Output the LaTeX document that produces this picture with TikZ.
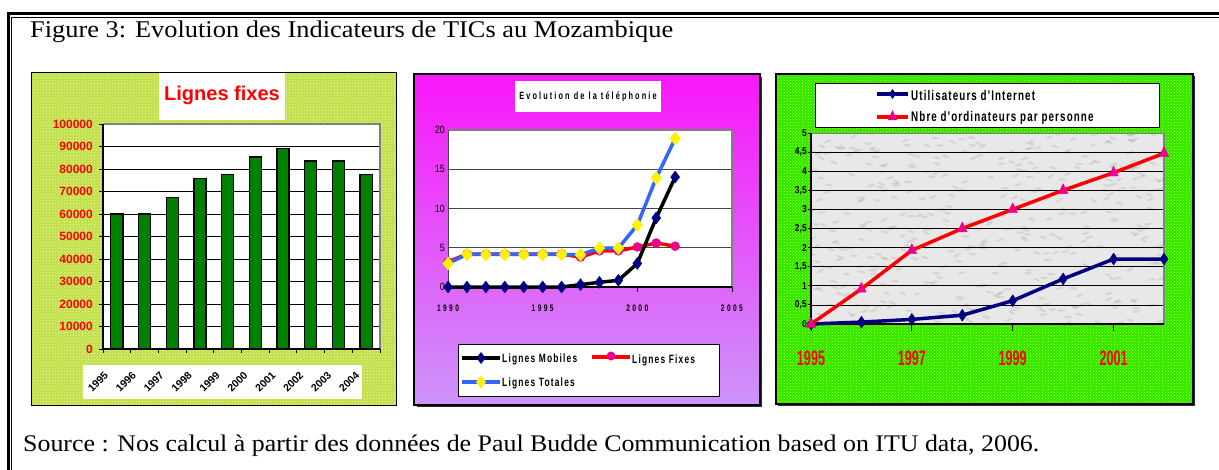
\documentclass[tikz,border=0pt]{standalone}
\usepackage{fontspec}
\setmainfont{Liberation Serif}
\newfontfamily\capfont{Liberation Serif}[FakeStretch=1.1]
\newfontfamily\srcfont{Liberation Serif}[FakeStretch=1.088]
\newfontfamily\sansb{Liberation Sans}
\newfontfamily\sansnar{Liberation Sans}[FakeStretch=0.85]
\newfontfamily\sanscond{Liberation Sans}[FakeStretch=0.7]
\newfontfamily\sansxc{Liberation Sans}[FakeStretch=0.6]
\usetikzlibrary{patterns,plotmarks}

\definecolor{bgyg}{RGB}{192,224,66}
\definecolor{barg}{RGB}{0,128,0}
\definecolor{magtop}{RGB}{250,22,250}
\definecolor{magbot}{RGB}{205,148,250}
\definecolor{navy}{RGB}{0,0,128}
\definecolor{tblue}{RGB}{51,102,255}
\definecolor{bggreen}{RGB}{40,232,0}
\definecolor{dotyel}{RGB}{215,255,0}
\definecolor{plotgray}{RGB}{232,232,232}
\definecolor{axgray}{RGB}{128,128,128}
\definecolor{darkgrid}{RGB}{70,70,70}
\definecolor{shadowc}{RGB}{50,40,60}

\tikzset{
  gridk/.style={black, line width=0.8pt},
  barbox/.style={fill=barg, draw=black, line width=1.3pt},
  seriesline/.style={line width=3.5pt, line join=round, line cap=round},
  chartframe/.style={draw=black, line width=1.2pt},
  legendbox/.style={fill=white, draw=black, line width=0.9pt},
  tickline/.style={black, line width=0.9pt},
}

\begin{document}
\begin{tikzpicture}[x=1pt,y=-1pt]
\path[use as bounding box] (0,0) rectangle (1219,469);
\clip (0,0) rectangle (1219,469);
\fill[white] (0,0) rectangle (1219,469);

% page frame: thick outer rule and thin inner rule
\draw[line width=3pt] (8,13.5) -- (1240,13.5);
\draw[line width=3pt] (8,12) -- (8,490);
\draw[line width=1pt] (11.5,17) -- (1240,17);
\draw[line width=1pt] (11.5,17) -- (11.5,490);

\node[anchor=base west, inner sep=0, font=\capfont\fontsize{24}{28}\selectfont] (title) at (30,37)
  {Figure 3: Evolution des Indicateurs de TICs au Mozambique};
\node[anchor=base west, inner sep=0, font=\srcfont\fontsize{23.8}{28}\selectfont] (source) at (23,451)
  {Source : Nos calcul à partir des données de Paul Budde Communication based on ITU data, 2006.};

% ---------------- chart 1 : fixed lines (bars) ----------------
\fill[bgyg] (31,72) rectangle (396,405);
\fill[pattern=crosshatch dots, pattern color=white!75!bgyg] (31,72) rectangle (396,405);
\draw[black, line width=1pt] (31,72) rectangle (396,405);
\fill[white] (159,73) rectangle (285,120);
\node[font=\sansb\bfseries\fontsize{20}{22}\selectfont, text=red, inner sep=0] (c1title) at (222,95) {Lignes fixes};
\fill[white] (103,124) rectangle (380,349);
\fill[white] (83,365) rectangle (362,399);
\begin{scope}[shift={(103,349)}, x=27.7pt, y=22.5pt]
  \foreach \k in {1,...,9} \draw[gridk] (0,\k) -- (10,\k);
  \draw[axgray, line width=1.5pt] (0,10) -- (10,10) -- (10,0);
  \foreach \v [count=\i from 0] in {6,6,6.72,7.58,7.76,8.53,8.92,8.36,8.36,7.76}
    \draw[barbox] (\i+0.283,0) rectangle (\i+0.717,\v);
  \draw[tickline, line width=1.1pt] (0,10) -- (0,0) -- (10,0);
  \foreach \k in {0,...,10} \draw[tickline] (0,\k) -- ++(-4pt,0);
  \foreach \i in {0,...,10} \draw[tickline] (\i,0) -- ++(0,-4pt);
  \foreach \k/\t in {0/0,1/10000,2/20000,3/30000,4/40000,5/50000,6/60000,7/70000,8/80000,9/90000,10/100000}
    \node[anchor=east, inner sep=0, text=red, font=\sansb\bfseries\fontsize{12}{14}\selectfont] (c1y\k) at ([xshift=-10pt]0,\k) {\t};
\end{scope}
\foreach \t [count=\i from 0] in {1995,1996,1997,1998,1999,2000,2001,2002,2003,2004}
  \node[rotate=45, inner sep=0, font=\sansb\bfseries\fontsize{10.5}{12}\selectfont] (c1x\i) at ({98+27.9*\i},382) {\t};

% ---------------- chart 2 : telephony ----------------
\fill[shadowc] (417,77) rectangle (762,407);
\shade[top color=magtop, bottom color=magbot] (414,74) rectangle (760,405);
\draw[chartframe] (414,74) rectangle (760,405);
\fill[white] (515,81) rectangle (661,112);
\node[inner sep=0, font=\sanscond\bfseries\fontsize{10.5}{12}\selectfont\addfontfeature{LetterSpace=20}] (c2title) at (588,97) {Evolution de la téléphonie};
\fill[white] (448,130) rectangle (732,287);
\begin{scope}[shift={(448,287)}, x=18.93pt, y=7.85pt]
  \foreach \k in {5,10,15} \draw[darkgrid, line width=1.1pt] (0,\k) -- (15,\k);
  \draw[axgray, line width=2pt] (0,20) -- (15,20);
  \draw[axgray, line width=1.5pt] (15,20) -- (15,0);
  \draw[darkgrid, line width=1pt] (0,20) -- (0,0);
  \draw[tickline, line width=1.1pt] (0,0) -- (15,0);
  \foreach \i in {0,5,10,15} \draw[tickline] (\i,0) -- ++(0,-5pt);
  \foreach \k in {0,5,10,15,20}
    \node[anchor=east, inner sep=0, font=\sansnar\fontsize{10.5}{12}\selectfont] (c2y\k) at ([xshift=-3pt]0,\k) {\k};
  \foreach \i/\t in {0/1990,5/1995,10/2000,15/2005}
    \node[inner sep=0, font=\sanscond\bfseries\fontsize{9.5}{11}\selectfont\addfontfeature{LetterSpace=25}] (c2x\t) at ([yshift=-21pt]\i,0) {\t};
  % Lignes Fixes
  \draw[seriesline, red, mark=*, mark size=4.5pt, mark options={fill=magenta, draw=magenta, line width=0.4pt}]
    plot coordinates {(0,3.2) (1,4.2) (2,4.2) (3,4.2) (4,4.2) (5,4.2) (6,4.2) (7,3.8) (8,4.6) (9,4.6) (10,5.1) (11,5.6) (12,5.2)};
  % Lignes Totales
  \draw[seriesline, tblue, mark=diamond*, mark size=6.5pt, mark options={fill=yellow, draw=yellow, line width=0.4pt, xscale=1.1}]
    plot coordinates {(0,3.0) (1,4.15) (2,4.15) (3,4.15) (4,4.15) (5,4.15) (6,4.15) (7,4.1) (8,4.95) (9,4.95) (10,7.9) (11,13.9) (12,18.9)};
  % Lignes Mobiles
  \draw[seriesline, black, mark=diamond*, mark size=6pt, mark options={fill=navy, draw=navy, line width=0.4pt}]
    plot coordinates {(0,0) (1,0) (2,0) (3,0) (4,0) (5,0) (6,0) (7,0.3) (8,0.6) (9,0.85) (10,3.0) (11,8.8) (12,14)};
\end{scope}
\draw[legendbox] (458,344) rectangle (719,396);
\draw[seriesline, black, line cap=butt] (462,358) -- (500,358);
\fill[navy] (481,352) -- (485.5,358) -- (481,364) -- (476.5,358) -- cycle;
\node[anchor=west, inner sep=0, font=\sanscond\bfseries\fontsize{12}{14}\selectfont\addfontfeature{LetterSpace=10}] (lgt1) at (502,359) {Lignes Mobiles};
\draw[seriesline, red, line cap=butt] (592,357) -- (630,357);
\fill[magenta] (611,356) circle (4.5);
\node[anchor=west, inner sep=0, font=\sanscond\bfseries\fontsize{12}{14}\selectfont\addfontfeature{LetterSpace=10}] (lgt2) at (632,360) {Lignes Fixes};
\draw[seriesline, tblue, line cap=butt] (462,382) -- (500,382);
\fill[yellow] (481,375.5) -- (486,382) -- (481,388.5) -- (476,382) -- cycle;
\node[anchor=west, inner sep=0, font=\sanscond\bfseries\fontsize{12}{14}\selectfont\addfontfeature{LetterSpace=10}] (lgt3) at (502,383) {Lignes Totales};

% ---------------- chart 3 : internet and computers ----------------
\fill[shadowc] (778,76) rectangle (1195,406);
\fill[bggreen] (776,74) rectangle (1193,404);
\fill[pattern=crosshatch dots, pattern color=dotyel] (776,74) rectangle (1193,404);
\draw[chartframe] (776,74) rectangle (1193,404);
\draw[legendbox] (815,83) rectangle (1159,127);
\draw[seriesline, navy, line cap=butt] (877,94) -- (908,94);
\fill[navy] (892.5,89) -- (896,94) -- (892.5,99) -- (889,94) -- cycle;
\node[anchor=west, inner sep=0, font=\sanscond\bfseries\fontsize{14}{16}\selectfont\addfontfeature{LetterSpace=8}] (lgu) at (911,95) {Utilisateurs d'Internet};
\draw[seriesline, red, line cap=butt] (877,117) -- (908,117);
\fill[magenta] (892.5,110) -- (897,120) -- (888,120) -- cycle;
\node[anchor=west, inner sep=0, font=\sanscond\bfseries\fontsize{14}{16}\selectfont\addfontfeature{LetterSpace=8}] (lgn) at (911,118) {Nbre d'ordinateurs par personne};
% granite-like plot area
\fill[plotgray] (811,133) rectangle (1164,324);
\begin{scope}
  \clip (811,133) rectangle (1164,324);
  \pgfmathsetseed{4242}
  \foreach \n in {1,...,420} {
    \pgfmathsetmacro{\px}{811+353*rnd}
    \pgfmathsetmacro{\py}{133+191*rnd}
    \pgfmathsetmacro{\ang}{60+60*rnd}
    \fill[gray, opacity=0.18, rotate around={\ang:(\px,\py)}] (\px,\py) ellipse (1.2 and 4);
  }
\end{scope}
\begin{scope}[shift={(811,324)}, x=50.43pt, y=38.2pt]
  \foreach \k in {0.5,1,...,4.5} \draw[gridk] (0,\k) -- (7,\k);
  \draw[gray, line width=0.6pt] (0,5) -- (7,5);
  \draw[axgray, line width=2pt] (7,5) -- (7,0);
  \draw[tickline, line width=1.1pt] (0,5) -- (0,0) -- (7,0);
  \foreach \k in {0,0.5,...,5} \draw[tickline] (0,\k) -- ++(-3pt,0);
  \foreach \i in {0,2,4,6} \draw[tickline] (\i,0) -- ++(0,-7pt);
  \foreach \k/\t [count=\n] in {0/0,0.5/{0,5},1/1,1.5/{1,5},2/2,2.5/{2,5},3/3,3.5/{3,5},4/4,4.5/{4,5},5/5}
    \node[anchor=east, inner sep=0, font=\sansnar\bfseries\fontsize{10}{12}\selectfont] (c3y\n) at ([xshift=-4pt]0,\k) {\t};
  \foreach \i/\t in {0/1995,2/1997,4/1999,6/2001}
    \node[inner sep=0, text=red, font=\sansxc\bfseries\fontsize{21}{24}\selectfont] (c3x\t) at ([yshift=-34pt]\i,0) {\t};
  % Utilisateurs d'Internet
  \draw[seriesline, navy, mark=diamond*, mark size=6pt, mark options={fill=navy, draw=navy, line width=0.4pt, xscale=0.9}]
    plot coordinates {(0,0) (1,0.05) (2,0.12) (3,0.23) (4,0.61) (5,1.18) (6,1.7) (7,1.7)};
  % Nbre d'ordinateurs par personne
  \draw[seriesline, red, mark=triangle*, mark size=5.5pt, mark options={fill=magenta, draw=magenta, line width=0.4pt, yscale=1.2}]
    plot coordinates {(0,0) (1,0.92) (2,1.93) (3,2.5) (4,3.0) (5,3.5) (6,3.96) (7,4.47)};
\end{scope}
\end{tikzpicture}
\end{document}
